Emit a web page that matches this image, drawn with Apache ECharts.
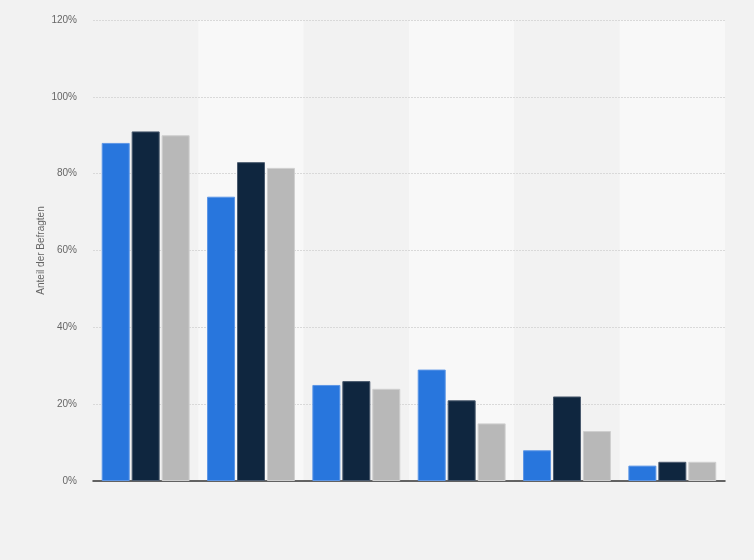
<!DOCTYPE html>
<html>
<head>
<meta charset="utf-8">
<script src="https://cdn.jsdelivr.net/npm/echarts@6/dist/echarts.min.js"></script>
<style>
  html, body { margin: 0; padding: 0; background: #f2f2f2; }
  #chart { width: 754px; height: 560px; }
</style>
</head>
<body>
<div id="chart"></div>
<script>
// six groups, the reference shows no category labels
const categories = ['1', '2', '3', '4', '5', '6'];
const seriesA = [88, 74, 25, 29, 8, 4];
const seriesB = [91, 83, 26, 21, 22, 5];
const seriesC = [90, 81.5, 24, 15, 13, 5];
const yTicks = [0, 20, 40, 60, 80, 100, 120];

const chart = echarts.init(document.getElementById('chart'));

const barStyle = (color, border) => ({
  type: 'bar',
  barWidth: 28,
  barGap: '7%',
  itemStyle: { color: color, borderColor: border, borderWidth: 1 }
});

chart.setOption({
  backgroundColor: '#f2f2f2',
  animation: false,
  textStyle: { fontFamily: 'Liberation Sans, Arial, sans-serif' },
  grid: { left: 93, right: 29, top: 20, bottom: 79 },
  xAxis: {
    type: 'category',
    data: categories,
    z: 0,
    axisLine: { lineStyle: { color: '#333', width: 1.5 } },
    axisTick: { show: false },
    axisLabel: { show: false },
    splitArea: { show: true, areaStyle: { color: ['#f2f2f2', '#f8f8f8'] } }
  },
  yAxis: {
    type: 'value',
    z: 1,
    min: yTicks[0],
    max: yTicks[yTicks.length - 1],
    interval: 20,
    name: 'Anteil der Befragten',
    nameLocation: 'middle',
    nameGap: 47,
    nameMoveOverlap: false,
    nameTextStyle: { color: '#666', fontSize: 10 },
    axisLine: { show: false },
    axisTick: { show: false },
    axisLabel: { color: '#666', fontSize: 10, margin: 16, formatter: '{value}%' },
    splitLine: { showMinLine: false, lineStyle: { color: '#d9d9d9', type: [2, 1] } }
  },
  series: [
    Object.assign(barStyle('#2876dd', '#5d96e6'), { data: seriesA }),
    Object.assign(barStyle('#0f263f', '#4a5a6e'), { data: seriesB }),
    Object.assign(barStyle('#b8b8b8', '#cfcfcf'), { data: seriesC })
  ]
});
</script>
</body>
</html>
